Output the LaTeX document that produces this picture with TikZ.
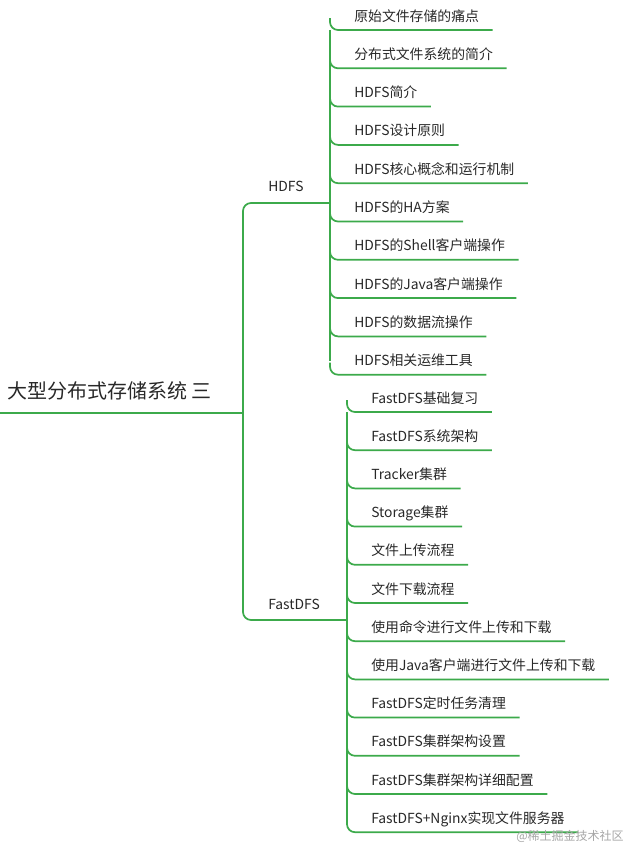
\documentclass[tikz,border=0pt]{standalone}
\usepackage{fontspec}
\setmainfont{Noto Sans CJK SC}
\definecolor{gr}{RGB}{60,170,75}
\definecolor{tx}{RGB}{40,40,40}
\begin{document}
\begin{tikzpicture}[x=0.75pt,y=-0.75pt,
  lbl/.style={anchor=south west,inner xsep=0pt,inner ysep=4pt,text=tx,text height=8pt,text depth=2.5pt,font=\fontsize{10.4}{12}\selectfont},
  ln/.style={draw=gr,line width=1.3pt,rounded corners=6pt}]
\useasboundingbox (0,0) rectangle (628,847);
\node[anchor=south west,inner sep=0pt,text=tx,font=\fontsize{15}{17}\selectfont] (root) at (7,400) {大型分布式存储系统 三};
\coordinate (rootend) at (243,413);
\draw[ln] (0,413) -- (rootend);
% level1
\node[lbl] (hdfs) at (268,200) {HDFS};
\node[lbl] (fast) at (268,618) {FastDFS};
\draw[ln] (rootend) -- (243,203) -- (330,203);
\draw[ln] (rootend) -- (243,620) -- (347,620);
% HDFS children
\foreach \t [count=\i] in {原始文件存储的痛点,分布式文件系统的简介,HDFS简介,HDFS设计原则,HDFS核心概念和运行机制,HDFS的HA方案,HDFS的Shell客户端操作,HDFS的Java客户端操作,HDFS的数据流操作,HDFS相关运维工具}{
  \pgfmathsetmacro\yy{30+38.3*(\i-1)}
  \node[lbl] (h\i) at (354,\yy) {\t};
  \draw[ln] (330,\yy-12) -- (330,\yy) -- ([xshift=10pt]h\i.south east);
}
\draw[ln] (330,30) -- (330,361);
% FastDFS children
\foreach \t [count=\i] in {FastDFS基础复习,FastDFS系统架构,Tracker集群,Storage集群,文件上传流程,文件下载流程,使用命令进行文件上传和下载,使用Java客户端进行文件上传和下载,FastDFS定时任务清理,FastDFS集群架构设置,FastDFS集群架构详细配置,FastDFS+Nginx实现文件服务器}{
  \pgfmathsetmacro\yy{412+38.2*(\i-1)}
  \node[lbl] (f\i) at (371,\yy) {\t};
  \draw[ln] (347,\yy-12) -- (347,\yy) -- ([xshift=10pt]f\i.south east);
}
\draw[ln] (347,412) -- (347,822);
\node[anchor=south east,inner sep=0pt,text=gray!70,font=\fontsize{9}{10}\selectfont] (wm) at (624,843) {@稀土掘金技术社区};
\end{tikzpicture}
\end{document}
